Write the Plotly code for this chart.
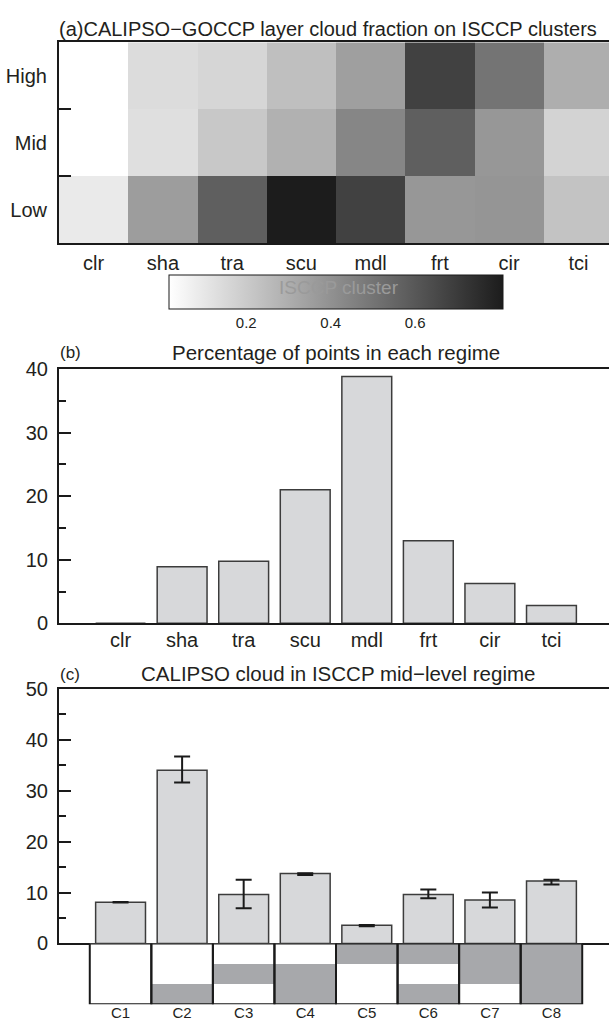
import plotly.graph_objects as go

# ---------------- data ----------------
clusters = ['clr', 'sha', 'tra', 'scu', 'mdl', 'frt', 'cir', 'tci']
levels = ['Low', 'Mid', 'High']
cf_low = [0.09, 0.36, 0.575, 0.81, 0.68, 0.38, 0.385, 0.225]
cf_mid = [0.017, 0.13, 0.21, 0.29, 0.44, 0.575, 0.38, 0.17]
cf_high = [0.017, 0.14, 0.16, 0.24, 0.35, 0.68, 0.50, 0.30]
cbar_ticks = [0.2, 0.4, 0.6]

pct_points = [0.0, 8.9, 9.75, 21.0, 38.8, 13.0, 6.25, 2.8]

c_labels = ['C1', 'C2', 'C3', 'C4', 'C5', 'C6', 'C7', 'C8']
c_values = [8.1, 34.0, 9.6, 13.75, 3.55, 9.6, 8.55, 12.27]
c_err_plus = [0.05, 2.7, 2.9, 0.05, 0.05, 1.0, 1.45, 0.25]
c_err_minus = [0.05, 2.4, 2.7, 0.3, 0.2, 0.75, 1.5, 0.7]
# cloud layers present in each CALIPSO class (1 = cloud)
c_high = [0, 0, 0, 0, 1, 1, 1, 1]
c_mid = [0, 0, 1, 1, 0, 0, 1, 1]
c_low = [0, 1, 0, 1, 0, 1, 0, 1]

# ---------------- style ----------------
W, H = 609, 1032
FONT = 'Liberation Sans, Arial, Helvetica, sans-serif'
TXT = '#231f20'
AX = '#1a1a1a'
BAR_FILL = '#d7d8da'
BAR_LINE = '#3c3c3c'
BOX_FILL = '#a7a8ab'


def py(p):
    return 1 - p / H


def px(p):
    return p / W


xdom = [px(59), 1.0]
pos = list(range(1, 9))

fig = go.Figure()

# (a) heatmap
fig.add_trace(go.Heatmap(
    x=pos, y=[0, 1, 2], z=[cf_low, cf_mid, cf_high],
    colorscale=[[0, '#ffffff'], [1, '#1c1c1c']], zmin=0.017, zmax=0.808,
    xaxis='x', yaxis='y', hoverinfo='skip',
    colorbar=dict(orientation='h', x=px(336), xanchor='center', lenmode='pixels', len=334,
                  y=py(270), yanchor='top', thickness=34, xpad=0, ypad=0,
                  outlinewidth=1, outlinecolor=AX, ticks='', tickvals=cbar_ticks,
                  tickfont=dict(size=15, color=TXT, family=FONT)),
))

# (b) bars
fig.add_trace(go.Bar(
    x=pos, y=pct_points, width=0.81, xaxis='x2', yaxis='y2',
    marker=dict(color=BAR_FILL, line=dict(color=BAR_LINE, width=1.5)), hoverinfo='skip',
))

# (c) bars with error bars
fig.add_trace(go.Bar(
    x=pos, y=c_values, width=0.81, xaxis='x3', yaxis='y3',
    marker=dict(color=BAR_FILL, line=dict(color=BAR_LINE, width=1.5)),
    error_y=dict(type='data', symmetric=False, array=c_err_plus, arrayminus=c_err_minus,
                 color=AX, thickness=2, width=8),
    hoverinfo='skip',
))

# cloud layer boxes
fig.add_trace(go.Heatmap(
    x=pos, y=[0.5, 1.5, 2.5], z=[c_high, c_mid, c_low],
    colorscale=[[0, '#ffffff'], [1, BOX_FILL]], zmin=0, zmax=1, showscale=False,
    xaxis='x4', yaxis='y4', hoverinfo='skip',
))
fig.add_trace(go.Bar(
    x=pos, y=[3] * 8, base=0, width=1, xaxis='x4', yaxis='y4',
    marker=dict(color='rgba(0,0,0,0)', line=dict(color=AX, width=2)), hoverinfo='skip',
))

tickfont = dict(size=20, color=TXT, family=FONT)
common_x = dict(showgrid=False, zeroline=False, ticks='', linecolor=AX, linewidth=2,
                tickfont=tickfont, fixedrange=True)
common_y = dict(showgrid=False, zeroline=False, linecolor=AX, linewidth=2,
                tickfont=tickfont, fixedrange=True, tickcolor=AX, tickwidth=2)

fig.update_layout(
    width=W, height=H, margin=dict(l=0, r=0, t=0, b=0, pad=0),
    paper_bgcolor='white', plot_bgcolor='white', showlegend=False,
    font=dict(family=FONT, color=TXT),
    xaxis=dict(common_x, domain=xdom, anchor='y', range=[0.5, 8.442], tickvals=pos,
               ticktext=clusters, showline=True, mirror=True, ticklabelstandoff=1),
    yaxis=dict(common_y, domain=[py(237.3), py(32)], anchor='x', range=[-0.5, 2.5],
               tickvals=[0, 1, 2], ticktext=levels, ticks='', showline=True,
               ticklabelstandoff=6,
               minor=dict(tickvals=[0.5, 1.5], ticks='inside', ticklen=12,
                          tickcolor=AX, tickwidth=2)),
    yaxis5=dict(common_y, overlaying='y', side='right', anchor='x', range=[-0.5, 2.5],
                showticklabels=False, showline=False, tickvals=[0.5, 1.5], ticks='inside',
                ticklen=12),
    xaxis2=dict(common_x, domain=xdom, anchor='y2', range=[0, 8.935], tickvals=pos,
                ticktext=clusters, showline=True, mirror=True, ticklabelstandoff=-2),
    yaxis2=dict(common_y, domain=[py(625.7), py(365.7)], anchor='x2', range=[0, 40],
                dtick=10, ticks='inside', ticklen=12, showline=True, ticklabelstandoff=5,
                minor=dict(dtick=5, ticks='inside', ticklen=7, tickcolor=AX, tickwidth=2)),
    yaxis6=dict(common_y, overlaying='y2', side='right', anchor='x2', range=[0, 40],
                dtick=10, ticks='inside', ticklen=12, showticklabels=False, showline=False,
                minor=dict(dtick=5, ticks='inside', ticklen=7, tickcolor=AX, tickwidth=2)),
    xaxis3=dict(common_x, domain=xdom, anchor='y3', range=[0, 8.935], showticklabels=False,
                showline=True, mirror=True),
    yaxis3=dict(common_y, domain=[py(952.7), py(692.7)], anchor='x3', range=[0, 50],
                dtick=10, ticks='inside', ticklen=12, showline=True, ticklabelstandoff=5,
                minor=dict(dtick=5, ticks='inside', ticklen=7, tickcolor=AX, tickwidth=2)),
    yaxis7=dict(common_y, overlaying='y3', side='right', anchor='x3', range=[0, 50],
                dtick=10, ticks='inside', ticklen=12, showticklabels=False, showline=False,
                minor=dict(dtick=5, ticks='inside', ticklen=7, tickcolor=AX, tickwidth=2)),
    xaxis4=dict(common_x, domain=xdom, anchor='y4', range=[0, 8.935], tickvals=pos,
                ticktext=c_labels, showline=False, tickfont=dict(size=15, color=TXT, family=FONT),
                ticklabelstandoff=-2),
    yaxis4=dict(domain=[py(1015), py(952.7)], anchor='x4', range=[3, 0], visible=False,
                fixedrange=True),
)

ann = [
    dict(text='(a)CALIPSO\u2212GOCCP layer cloud fraction on ISCCP clusters', x=px(57), y=py(18),
         xanchor='left', size=20),
    dict(text='ISCCP cluster', x=px(339), y=py(283), xanchor='center', size=19, color='#9a9a9a'),
    dict(text='Percentage of points in each regime', x=px(336), y=py(349), xanchor='center', size=20.5),
    dict(text='(b)', x=px(70), y=py(349), xanchor='center', size=17),
    dict(text='CALIPSO cloud in ISCCP mid\u2212level regime', x=px(338), y=py(677), xanchor='center', size=20.5),
    dict(text='(c)', x=px(70), y=py(678), xanchor='center', size=17),
]
for a in ann:
    fig.add_annotation(text=a['text'], x=a['x'], y=a['y'], xref='paper', yref='paper',
                       xanchor=a['xanchor'], yanchor='middle', showarrow=False,
                       font=dict(size=a['size'], color=a.get('color', TXT), family=FONT))

fig.write_html('out.html')
